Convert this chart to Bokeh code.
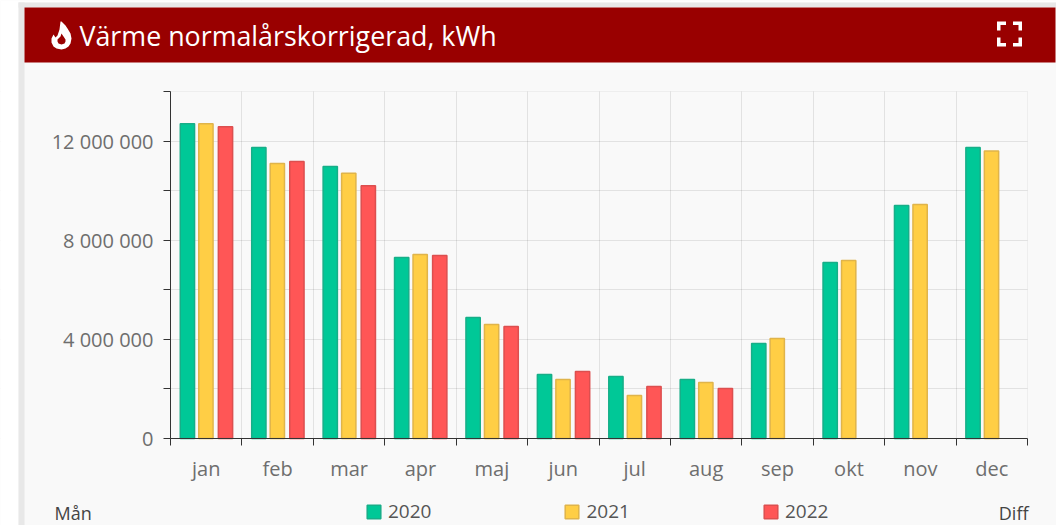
from bokeh.plotting import figure
from bokeh.embed import file_html
from bokeh.resources import INLINE
from bokeh.models import (FixedTicker, Range1d, Legend, LegendItem, Label, BoxAnnotation,
                          PolyAnnotation, ColumnDataSource)

months = ["jan", "feb", "mar", "apr", "maj", "jun", "jul", "aug", "sep", "okt", "nov", "dec"]
v2020 = [12700000, 11740000, 10970000, 7300000, 4880000, 2580000, 2500000, 2380000, 3830000, 7100000, 9400000, 11740000]
v2021 = [12700000, 11100000, 10700000, 7420000, 4600000, 2380000, 1730000, 2260000, 4030000, 7180000, 9440000, 11600000]
v2022 = [12580000, 11180000, 10200000, 7380000, 4520000, 2700000, 2100000, 2020000, None, None, None, None]
y_major = [0, 4000000, 8000000, 12000000]
y_minor = [2000000, 6000000, 10000000, 14000000]
y_labels = {0: "0", 4000000: "4 000 000", 8000000: "8 000 000", 12000000: "12 000 000"}
title_text = "Värme normalårskorrigerad, kWh"
FONT = "Open Sans"

W, H = 1056, 525
# plot area in page pixels; the frame fills the whole canvas, so the ranges run past it
X0, X1, Y0, Y1 = 170, 1027, 91, 438
n = len(months)
ymax = 14000000
kx = n / (X1 - X0)
ky = ymax / (Y1 - Y0)
PANEL = "#f9f9f9"
TICK_TEXT = "#6e6e6e"

p = figure(width=W, height=H, output_backend="svg", toolbar_location=None,
           x_range=Range1d(-X0 * kx, (W - X0) * kx),
           y_range=Range1d(-(H - Y1) * ky, Y1 * ky))
p.min_border_left = p.min_border_right = p.min_border_top = p.min_border_bottom = 0
p.outline_line_color = None
p.background_fill_color = PANEL
p.border_fill_color = "#ffffff"

centers = [i + 0.5 for i in range(n)]
edges = list(range(n + 1))

xa = p.xaxis[0]
xa.fixed_location = 0
xa.bounds = (0, n)
xa.ticker = FixedTicker(ticks=centers, minor_ticks=edges)
xa.major_label_overrides = {c: m for c, m in zip(centers, months)}
xa.major_tick_line_color = None
xa.minor_tick_line_color = "#333333"
xa.minor_tick_out = 7
xa.minor_tick_in = 0
xa.axis_line_color = "#333333"
xa.major_label_text_font = FONT
xa.major_label_text_font_size = "20px"
xa.major_label_text_color = TICK_TEXT
xa.major_label_standoff = 9

ya = p.yaxis[0]
ya.fixed_location = 0
ya.bounds = (0, ymax)
ya.ticker = FixedTicker(ticks=y_major, minor_ticks=y_minor)
ya.major_label_overrides = y_labels
ya.major_tick_line_color = "#333333"
ya.major_tick_out = 7
ya.major_tick_in = 0
ya.minor_tick_line_color = "#333333"
ya.minor_tick_out = 7
ya.minor_tick_in = 0
ya.axis_line_color = "#333333"
ya.major_label_text_font = FONT
ya.major_label_text_font_size = "20px"
ya.major_label_text_color = TICK_TEXT
ya.major_label_standoff = 10

p.xgrid[0].ticker = FixedTicker(ticks=edges)
p.ygrid[0].ticker = FixedTicker(ticks=y_major + y_minor)
for g in (p.xgrid[0], p.ygrid[0]):
    g.grid_line_color = "#000000"
    g.grid_line_alpha = 0.09
    g.grid_line_width = 1

series = [("2020", v2020, -0.263, "#00c897", "#17ae88"),
          ("2021", v2021, -0.004, "#ffce45", "#e0b44a"),
          ("2022", v2022, 0.27, "#ff5656", "#dc4f4f")]
items = []
for name, vals, off, fill, line in series:
    xs, ys = [], []
    for c, v in zip(centers, vals):
        if v is not None:
            xs.append(c + off)
            ys.append(v)
    src = ColumnDataSource(dict(x=xs, top=ys))
    r = p.vbar(x="x", top="top", bottom=0, width=0.2, source=src,
               fill_color=fill, line_color=line, line_width=1.5)
    items.append(LegendItem(label=name, renderers=[r]))

legend = Legend(items=items, orientation="horizontal", location=(365, 1),
                border_line_color=None, background_fill_alpha=0,
                glyph_width=17, glyph_height=17, label_text_font=FONT,
                label_text_font_size="19px", label_text_color="#555555",
                spacing=132, padding=0, margin=0, label_standoff=6)
p.add_layout(legend, "center")


def box(left, right, top, bottom, col):
    # drawn at the grids' level, after them, so that they trim the grid lines
    p.add_layout(BoxAnnotation(left=left, right=right, top=H - top, bottom=H - bottom,
                               left_units="screen", right_units="screen",
                               top_units="screen", bottom_units="screen",
                               fill_color=col, fill_alpha=1, line_color=None, level="underlay"))


def poly(xs, ys, col):
    p.add_layout(PolyAnnotation(xs=list(xs), ys=[H - y for y in ys],
                                xs_units="screen", ys_units="screen",
                                fill_color=col, fill_alpha=1, line_color=None))


# masks around the plot area
box(0, X0, 0, H, PANEL)
box(X1, W, 0, H, PANEL)
box(0, W, 0, Y0, PANEL)
box(0, W, Y1, H, PANEL)
# page frame
box(0, W, 0, 2, "#ffffff")
box(0, 18, 0, H, "#ffffff")
box(18, W, 2, 7, "#e8e8e8")
box(18, 24, 2, H, "#e8e8e8")
box(24, 1055, 7, 62, "#990000")

# flame icon
poly([61, 65, 67, 70, 71, 70, 68, 65, 61, 56, 53, 51, 51, 53, 55, 57, 59, 60],
     [21, 25, 28, 33, 38, 43, 46, 48, 49, 48, 46, 42, 38, 34, 37, 35, 29, 21], "#ffffff")
poly([61, 63, 65, 65, 64, 61, 58, 57, 57, 59, 60],
     [33, 36, 39, 41, 43, 44, 43, 41, 39, 37, 36], "#990000")

# fullscreen icon corners
ix0, ix1, iy0, iy1 = 996.5, 1021.5, 21, 46
a, t = 9, 3.5
for cx, sx in [(ix0, 1), (ix1, -1)]:
    for cy, sy in [(iy0, 1), (iy1, -1)]:
        poly([cx, cx + sx * a, cx + sx * a, cx + sx * t, cx + sx * t, cx],
             [cy, cy, cy + sy * t, cy + sy * t, cy + sy * a, cy + sy * a], "#ffffff")

for txt, x, y, size, col, align in [(title_text, 79, 35, "26.8px", "#ffffff", "left"),
                                    ("Mån", 54, 512, "18px", "#444444", "left"),
                                    ("Diff", 1028, 512, "18px", "#444444", "right")]:
    p.add_layout(Label(x=x, y=H - y, x_units="screen", y_units="screen", text=txt, text_font=FONT,
                       text_font_size=size, text_color=col, text_align=align,
                       text_baseline="middle"))

open("out.html", "w").write(file_html(p, INLINE))
